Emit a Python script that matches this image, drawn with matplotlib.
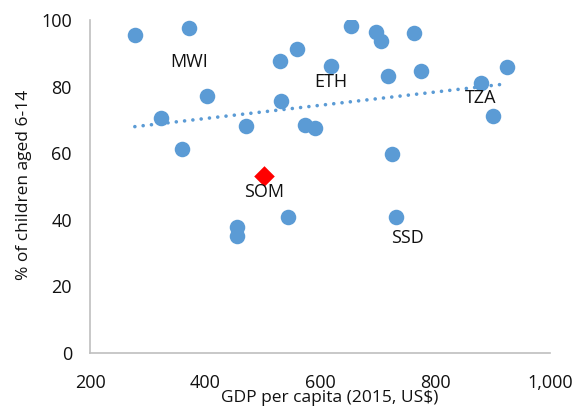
import matplotlib

matplotlib.use("Agg")
import matplotlib.pyplot as plt
import numpy as np

plt.rcParams["font.family"] = ["Open Sans", "DejaVu Sans"]

# GDP per capita (2015, US$) vs % of children aged 6-14
gdp = [278, 372, 403, 323, 360, 471, 456, 456, 530, 533, 560, 544, 619,
       654, 697, 706, 763, 718, 776, 574, 591, 725, 880, 925, 901, 732]
pct = [95.5, 97.6, 77.2, 70.6, 61.3, 68.2, 37.8, 35.2, 87.7, 75.8, 91.3,
       40.8, 86.2, 98.2, 96.4, 93.7, 96.0, 83.2, 84.7, 68.5, 67.5, 59.7,
       81.1, 86.0, 71.2, 40.8]
som_gdp = 503
som_pct = 53.2

# labels: (text, x, y)
labels = [("MWI", 372, 87.5), ("ETH", 619, 81.5), ("TZA", 880, 76.5),
          ("SSD", 752, 34.5), ("SOM", 503, 48.3)]

blue = "#5B9BD5"
fig = plt.figure(figsize=(5.87, 4.08), dpi=100)
ax = fig.add_axes([90 / 587, 55 / 408, 460 / 587, 333 / 408])

ax.scatter(gdp, pct, s=125, color=blue, zorder=3, linewidths=0)
ax.scatter([som_gdp], [som_pct], s=110, marker="D", color="#FF0000",
           zorder=3, linewidths=0)

# linear trend over all points (SOM included)
all_x = gdp + [som_gdp]
all_y = pct + [som_pct]
k, b = np.polyfit(all_x, all_y, 1)
xs = np.array([min(gdp), max(gdp)])
ax.plot(xs, k * xs + b, ls=(0, (0.01, 2.3)), lw=2.6, color=blue,
        dash_capstyle="round", zorder=2)

for txt, x, y in labels:
    ax.text(x, y, txt, ha="center", va="center", fontsize=13, color="#111111")

ax.set_xlim(200, 1000)
ax.set_ylim(0, 100)
ax.set_xticks([200, 400, 600, 800, 1000])
ax.set_xticklabels(["200", "400", "600", "800", "1,000"])
ax.set_yticks([0, 20, 40, 60, 80, 100])
ax.tick_params(length=0, labelsize=13, colors="#111111")
ax.tick_params(axis="x", pad=15)
ax.tick_params(axis="y", pad=13)
for s in ["top", "right"]:
    ax.spines[s].set_visible(False)
for s in ["left", "bottom"]:
    ax.spines[s].set_color("#BFBFBF")
    ax.spines[s].set_linewidth(1.2)

fig.text(330 / 587, 1 - 398 / 408, "GDP per capita (2015, US$)", ha="center",
         va="center", fontsize=12.5, color="#111111")
fig.text(24 / 587, 1 - 185 / 408, "% of children aged 6-14", ha="center",
         va="center", rotation=90, fontsize=12.5, color="#111111")

fig.savefig("out.png", dpi=100)
